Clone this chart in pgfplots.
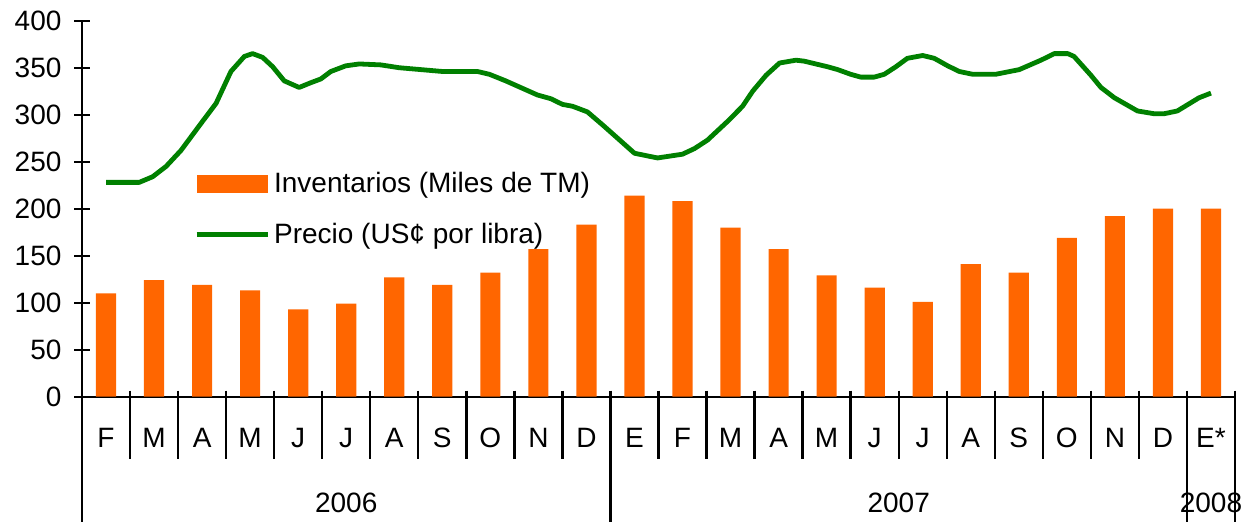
\documentclass[border=0pt]{standalone}
\usepackage{fontspec}
\setmainfont{Liberation Sans}
\usepackage{pgfplots}
\pgfplotsset{compat=1.18}
\definecolor{barorange}{RGB}{255,102,0}
\definecolor{linegreen}{RGB}{0,128,0}
\begin{document}
\begin{tikzpicture}
\useasboundingbox (-41pt,-62.15pt) rectangle (579.5pt,198.35pt);
\begin{axis}[
  at={(0pt,0pt)}, anchor=south west,
  scale only axis, width=576.5pt, height=188pt,
  xmin=-0.5, xmax=23.5, ymin=0, ymax=400,
  axis lines=left, axis line style={-, line width=1.2pt},
  ytick={0,50,...,400},
  y tick style={black, line width=1.2pt},
  tick align=center, major tick length=7.5pt,
  xtick={0,...,23},
  xticklabels={F,M,A,M,J,J,A,S,O,N,D,E,F,M,A,M,J,J,A,S,O,N,D,E*},
  x tick style={draw=none},
  xticklabel style={anchor=center, yshift=-17pt},
  yticklabel style={anchor=east, xshift=-3pt},
  /pgf/number format/assume math mode=true,
  tick label style={font=\fontsize{14}{16}\selectfont},
  clip=false,
  legend style={draw=none, fill=none, at={(axis cs:1.83,239)}, anchor=north west,
    font=\fontsize{14}{16}\selectfont, row sep=13.7pt, column sep=2pt,
    inner sep=0pt, nodes={inner sep=0pt}},
  legend cell align=left,
]
\addplot[ybar, bar width=0.42, fill=barorange, draw=none,
  legend image code/.code={\fill[barorange] (0pt,-4.5pt) rectangle (35.5pt,4.5pt);}]
coordinates {
(0,110) (1,124) (2,119) (3,113) (4,93) (5,99) (6,127) (7,119) (8,132) (9,157) (10,183) (11,214)
(12,208) (13,180) (14,157) (15,129) (16,116) (17,101) (18,141) (19,132) (20,169) (21,192) (22,200) (23,200)
};
\addlegendentry{Inventarios (Miles de TM)}
\addplot[linegreen, line width=2.4pt, line join=round, mark=none,
  legend image code/.code={\draw[linegreen, line width=2.4pt] (0pt,0pt) -- (35.5pt,0pt);}]
coordinates {
(0,228) (0.69,228) (0.97,234) (1.25,245) (1.56,262) (2.01,293) (2.29,312) (2.60,346) (2.88,362)
(3.05,365) (3.26,361) (3.47,351) (3.71,336) (4.02,329) (4.26,334) (4.47,338) (4.68,346) (4.99,352)
(5.27,354) (5.72,353) (6.10,350) (7.00,346) (7.73,346) (7.98,343) (8.32,336) (8.98,321) (9.26,317)
(9.50,311) (9.71,309) (10.02,303) (10.34,289) (11.00,259) (11.48,254) (12.00,258) (12.25,264)
(12.52,273) (12.94,293) (13.25,309) (13.46,325) (13.74,342) (14.02,355) (14.36,358) (14.53,357)
(15.02,351) (15.23,348) (15.50,343) (15.71,340) (15.99,340) (16.20,343) (16.44,351) (16.68,360)
(17.00,363) (17.24,360) (17.52,352) (17.76,346) (18.04,343) (18.52,343) (19.01,348) (19.46,358)
(19.74,365) (20.02,365) (20.15,362) (20.50,342) (20.71,329) (20.99,318) (21.47,304) (21.82,301)
(22.02,301) (22.30,304) (22.75,318) (23.00,323)
};
\addlegendentry{Precio (US¢ por libra)}
\pgfplotsinvokeforeach{-0.5,0.5,...,23.5}{
  \draw[line width=1.2pt] (axis cs:#1,0) ++(0pt,3pt) -- ++(0pt,-34pt);
}
\pgfplotsinvokeforeach{-0.5,10.5,22.5,23.5}{
  \draw[line width=1.2pt] (axis cs:#1,0) -- ++(0pt,-70pt);
}
\node[font=\fontsize{14}{16}\selectfont] at (axis cs:5,0) [yshift=-53pt] {2006};
\node[font=\fontsize{14}{16}\selectfont] at (axis cs:16.5,0) [yshift=-53pt] {2007};
\node[font=\fontsize{14}{16}\selectfont] at (axis cs:23,0) [yshift=-53pt] {2008};
\end{axis}
\end{tikzpicture}
\end{document}
